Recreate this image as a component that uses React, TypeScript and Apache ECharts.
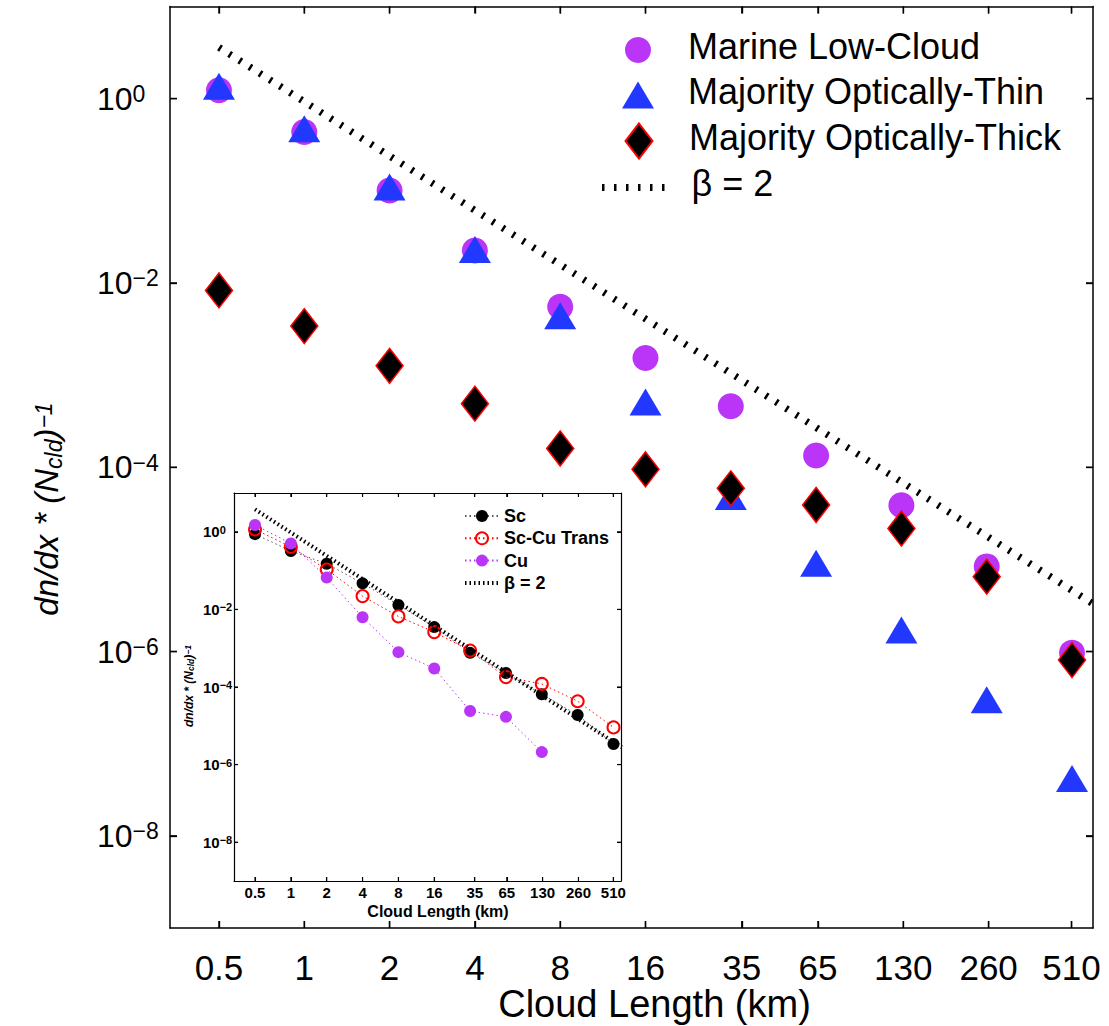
import React, { useEffect, useRef } from 'react';
import * as echarts from 'echarts';

// ---------- data ----------
const cloudLengths = [0.5, 1, 2, 4, 8, 16, 32, 64, 128, 256, 512];
const xTickValues = [0.5, 1, 2, 4, 8, 16, 35, 65, 130, 260, 510];
const yTickExponents = [-8, -6, -4, -2, 0];

const marineLowCloud = [1.23, 0.434, 0.101, 0.0225, 5.5e-3, 1.53e-3, 4.6e-4, 1.34e-4, 3.86e-5, 8.4e-6, 9.7e-7];
const opticallyThin = [1.36, 0.472, 0.11, 0.0231, 4.4e-3, 5.1e-4, 4.8e-5, 9.1e-6, 1.71e-6, 3.0e-7, 4.2e-8];
const opticallyThick = [8.3e-3, 3.4e-3, 1.26e-3, 4.9e-4, 1.6e-4, 9.5e-5, 5.9e-5, 3.9e-5, 2.16e-5, 6.5e-6, 8.1e-7];
const betaMainX = [0.5, 607];
const betaMainY = [3.6, 3.3e-6];

const insetSc = [0.87, 0.32, 0.15, 0.047, 0.013, 0.0035, 7.6e-4, 2.3e-4, 6.5e-5, 1.9e-5, 3.4e-6];
const insetTrans = [1.15, 0.41, 0.107, 0.022, 0.0066, 0.0026, 8.7e-4, 1.8e-4, 1.2e-4, 4.3e-5, 9.1e-6];
const insetCu = [1.5, 0.5, 0.066, 0.0063, 7.9e-4, 3.0e-4, 2.4e-5, 1.7e-5, 2.1e-6];
const betaInsetX = [0.5, 600];
const betaInsetY = [3.8, 2.8e-6];

// ---------- helpers ----------
const FONT = "'Liberation Sans', Arial, Helvetica, sans-serif";
const PURPLE = '#BA35F7';
const BLUE = '#2238FF';
const RED = '#FF0000';
const CLEAR = 'rgba(0,0,0,0)';

const toPts = (xs: number[], ys: number[]) => ys.map((y, i) => [Math.log2(xs[i]), Math.log10(y)]);
const xTickPos = xTickValues.map((v) => Math.log2(v));
const xFormatter = (v: number) => {
  const i = xTickPos.findIndex((p) => Math.abs(p - v) < 1e-6);
  return i >= 0 ? String(xTickValues[i]) : '';
};
const yFormatter = (v: number) => {
  const e = Math.round(v);
  const s = e < 0 ? '\u2212' + -e : String(e);
  return `{b|10}{s|${s}}`;
};

const boxAxis = (grid: number, pos: string, min: number, max: number, lw: number, ticks: number[], len: number) => ({
  gridIndex: grid,
  type: 'value',
  position: pos,
  min,
  max,
  z: grid === 1 ? 6 : 0,
  axisLine: { show: true, onZero: false, lineStyle: { color: '#000', width: lw } },
  axisTick: { show: true, inside: true, length: len, customValues: ticks, lineStyle: { color: '#000', width: lw * 0.9 } },
  axisLabel: { show: false },
  splitLine: { show: false },
});

// tick marks on all four sides of a grid, placed through the axes' own scales
const tickSeries = (xIdx: number, yIdx: number, xMin: number, yMin: number, len: number, lw: number, z: number) => ({
  type: 'custom',
  xAxisIndex: xIdx,
  yAxisIndex: yIdx,
  z,
  silent: true,
  clip: false,
  data: [...xTickPos.map((v) => [0, v]), ...yTickExponents.map((v) => [1, v])],
  renderItem: (params: any, api: any) => {
    const kind = api.value(0);
    const v = api.value(1);
    const cs = params.coordSys;
    const st = { stroke: '#000', lineWidth: lw };
    if (kind === 0) {
      const x = api.coord([v, yMin])[0];
      const b = cs.y + cs.height;
      return {
        type: 'group',
        children: [
          { type: 'line', shape: { x1: x, y1: b, x2: x, y2: b - len }, style: st },
          { type: 'line', shape: { x1: x, y1: cs.y, x2: x, y2: cs.y + len }, style: st },
        ],
      };
    }
    const y = api.coord([xMin, v])[1];
    const r = cs.x + cs.width;
    return {
      type: 'group',
      children: [
        { type: 'line', shape: { x1: cs.x, y1: y, x2: cs.x + len, y2: y }, style: st },
        { type: 'line', shape: { x1: r, y1: y, x2: r - len, y2: y }, style: st },
      ],
    };
  },
});

export default function App() {
  const ref = useRef<HTMLDivElement>(null);

  useEffect(() => {
    if (!ref.current) return;
    const chart = echarts.init(ref.current, null, { renderer: 'svg' });

    const mainXMin = -1.574, mainXMax = 9.246;
    const insXMin = -1.586, insXMax = 9.209;

    const mainLegendText = (gap: number) => ({
      rich: {
        g: { width: gap },
        t: { fontSize: 36, lineHeight: 36, color: '#000', fontFamily: FONT, padding: [0, 0, 8, 0] },
      },
    });

    const option: any = {
      animation: false,
      backgroundColor: '#fff',
      grid: [
        { left: 170, top: 6.5, width: 923, height: 921.5, show: false, outerBoundsMode: 'none', containLabel: false },
        {
          left: 234, top: 493, width: 387, height: 388, show: true, backgroundColor: '#fff', borderWidth: 0, z: 5,
          outerBoundsMode: 'none', containLabel: false,
        },
      ],
      xAxis: [
        {
          ...boxAxis(0, 'bottom', mainXMin, mainXMax, 1.5, xTickPos, 7),
          axisLabel: {
            show: true, customValues: xTickPos, formatter: xFormatter,
            fontSize: 35, lineHeight: 32, color: '#000', fontFamily: FONT, margin: 23,
          },
          name: 'Cloud Length (km)',
          nameLocation: 'middle',
          nameGap: 59,
          nameMoveOverlap: false,
          nameTextStyle: { fontSize: 38, lineHeight: 34, color: '#000', fontFamily: FONT, padding: [0, 0, 0, 46] },
        },
        boxAxis(0, 'top', mainXMin, mainXMax, 1.5, xTickPos, 7),
        {
          ...boxAxis(1, 'bottom', insXMin, insXMax, 1.2, xTickPos, 4),
          axisLabel: {
            show: true, customValues: xTickPos, formatter: xFormatter,
            fontSize: 15, fontWeight: 'bold', color: '#000', fontFamily: FONT, margin: 4,
          },
          name: 'Cloud Length (km)',
          nameLocation: 'middle',
          nameGap: 22,
          nameTextStyle: { fontSize: 16, fontWeight: 'bold', color: '#000', fontFamily: FONT, padding: [0, 0, 0, 21] },
        },
        boxAxis(1, 'top', insXMin, insXMax, 1.2, xTickPos, 4),
      ],
      yAxis: [
        {
          ...boxAxis(0, 'left', -9, 1, 1.5, yTickExponents, 7),
          axisLabel: {
            show: true, customValues: yTickExponents, formatter: yFormatter,
            align: 'left', margin: 73, color: '#000',
            rich: {
              b: { fontSize: 32, lineHeight: 32, padding: [11, 0, 11, 0], fontFamily: FONT, color: '#000' },
              s: { fontSize: 23, lineHeight: 22, verticalAlign: 'top', fontFamily: FONT, color: '#000' },
            },
          },
        },
        boxAxis(0, 'right', -9, 1, 1.5, yTickExponents, 7),
        {
          ...boxAxis(1, 'left', -9, 1, 1.2, yTickExponents, 4),
          axisLabel: {
            show: true, customValues: yTickExponents, formatter: yFormatter,
            align: 'left', margin: 31, color: '#000',
            rich: {
              b: { fontSize: 15, lineHeight: 15, padding: [5, 0, 5, 0], fontWeight: 'bold', fontFamily: FONT, color: '#000' },
              s: { fontSize: 11, lineHeight: 11, verticalAlign: 'top', fontWeight: 'bold', fontFamily: FONT, color: '#000' },
            },
          },
        },
        boxAxis(1, 'right', -9, 1, 1.2, yTickExponents, 4),
      ],
      legend: [
        {
          left: 625, top: 28, padding: 0, itemWidth: 26, itemHeight: 26, selectedMode: false,
          data: [{ name: 'Marine Low-Cloud', icon: 'circle' }],
          formatter: (n: string) => `{g| }{t|${n}}`,
          textStyle: mainLegendText(32),
        },
        {
          left: 622, top: 73, padding: 0, itemWidth: 32, itemHeight: 27, selectedMode: false,
          data: [{ name: 'Majority Optically-Thin', icon: 'triangle' }],
          formatter: (n: string) => `{g| }{t|${n}}`,
          textStyle: mainLegendText(29),
        },
        {
          left: 624.5, top: 119, padding: 0, itemWidth: 27, itemHeight: 35, selectedMode: false,
          data: [{ name: 'Majority Optically-Thick', icon: 'diamond' }],
          formatter: (n: string) => `{g| }{t|${n}}`,
          textStyle: mainLegendText(31.5),
        },
        {
          left: 598.5, top: 165.5, padding: 0, itemWidth: 72, itemHeight: 14, selectedMode: false,
          data: [{
            name: '\u03B2 = 2',
            itemStyle: { color: CLEAR, borderColor: CLEAR, borderWidth: 0 },
            lineStyle: { color: '#000', width: 7, type: [2.5, 9.5], cap: 'butt' },
          }],
          lineStyle: { color: '#000', width: 7, type: [2.5, 9.5], cap: 'butt' },
          formatter: (n: string) => `{g| }{t|${n}}`,
          textStyle: mainLegendText(12.5),
        },
        {
          left: 463, top: 507, padding: 0, orient: 'vertical', itemWidth: 34, itemHeight: 15, itemGap: 4.3,
          selectedMode: false, z: 8,
          data: [
            'Sc',
            'Sc-Cu Trans',
            'Cu',
            {
              name: '\u03B2 = 2 ',
              itemStyle: { color: CLEAR, borderColor: CLEAR, borderWidth: 0 },
              lineStyle: { color: '#000', width: 4, type: [1.5, 3], cap: 'butt' },
            },
          ],
          textStyle: { fontSize: 18, fontWeight: 'bold', color: '#000', fontFamily: FONT },
        },
      ],
      graphic: [
        {
          type: 'text', x: 49, y: 509, rotation: Math.PI / 2,
          style: {
            text: '{i|dn/dx * (N}{sub|cld}{i|)}{sup|\u22121}',
            align: 'center', verticalAlign: 'middle',
            rich: {
              i: { fontSize: 33, lineHeight: 33, padding: [10, 0, 15, 0], fontStyle: 'italic', fontFamily: FONT, fill: '#000' },
              sub: { fontSize: 23, lineHeight: 23, verticalAlign: 'bottom', fontStyle: 'italic', fontFamily: FONT, fill: '#000' },
              sup: { fontSize: 23, lineHeight: 24, verticalAlign: 'top', fontStyle: 'italic', fontFamily: FONT, fill: '#000' },
            },
          },
        },
        {
          type: 'text', x: 189, y: 686, rotation: Math.PI / 2, z: 10,
          style: {
            text: '{i|dn/dx * (N}{sub|cld}{i|)}{sup|\u22121}',
            align: 'center', verticalAlign: 'middle',
            rich: {
              i: { fontSize: 12, lineHeight: 12, padding: [4, 0, 5, 0], fontStyle: 'italic', fontWeight: 'bold', fontFamily: FONT, fill: '#000' },
              sub: { fontSize: 8.5, lineHeight: 8.5, verticalAlign: 'bottom', fontStyle: 'italic', fontWeight: 'bold', fontFamily: FONT, fill: '#000' },
              sup: { fontSize: 8.5, lineHeight: 9, verticalAlign: 'top', fontStyle: 'italic', fontWeight: 'bold', fontFamily: FONT, fill: '#000' },
            },
          },
        },
      ],
      series: [
        {
          name: 'Marine Low-Cloud', type: 'scatter', xAxisIndex: 0, yAxisIndex: 0,
          symbol: 'circle', symbolSize: 26, z: 2,
          itemStyle: { color: PURPLE, opacity: 1 },
          data: toPts(cloudLengths, marineLowCloud),
        },
        {
          name: 'Majority Optically-Thin', type: 'scatter', xAxisIndex: 0, yAxisIndex: 0,
          symbol: 'triangle', symbolSize: [32, 27], z: 3,
          itemStyle: { color: BLUE, opacity: 1 },
          data: toPts(cloudLengths, opticallyThin),
        },
        {
          name: 'Majority Optically-Thick', type: 'scatter', xAxisIndex: 0, yAxisIndex: 0,
          symbol: 'diamond', symbolSize: [27, 35], z: 4,
          itemStyle: { color: '#000', borderColor: RED, borderWidth: 1.5, opacity: 1 },
          data: toPts(cloudLengths, opticallyThick),
        },
        {
          name: '\u03B2 = 2', type: 'line', xAxisIndex: 0, yAxisIndex: 0,
          symbol: 'none', z: 4,
          lineStyle: { color: '#000', width: 7, type: [2.5, 9.5], cap: 'butt' },
          itemStyle: { color: '#000' },
          data: toPts(betaMainX, betaMainY),
        },
        tickSeries(0, 0, mainXMin, -9, 7, 1.4, 4),
        {
          name: 'Sc', type: 'line', xAxisIndex: 2, yAxisIndex: 2,
          symbol: 'circle', symbolSize: 12, z: 7,
          itemStyle: { color: '#000' },
          lineStyle: { color: '#555', width: 1, type: [1.5, 3] },
          data: toPts(cloudLengths, insetSc),
        },
        {
          name: 'Sc-Cu Trans', type: 'line', xAxisIndex: 2, yAxisIndex: 2,
          symbol: 'circle', symbolSize: 12, z: 8,
          itemStyle: { color: 'rgba(255,255,255,0)', borderColor: RED, borderWidth: 2 },
          lineStyle: { color: RED, width: 1, type: [1.5, 3] },
          data: toPts(cloudLengths, insetTrans),
        },
        {
          name: 'Cu', type: 'line', xAxisIndex: 2, yAxisIndex: 2,
          symbol: 'circle', symbolSize: 12, z: 9,
          itemStyle: { color: PURPLE },
          lineStyle: { color: PURPLE, width: 1, type: [1.5, 3] },
          data: toPts(cloudLengths.slice(0, insetCu.length), insetCu),
        },
        {
          name: '\u03B2 = 2 ', type: 'line', xAxisIndex: 2, yAxisIndex: 2,
          symbol: 'none', z: 10,
          itemStyle: { color: '#000' },
          lineStyle: { color: '#000', width: 4, type: [1.5, 3], cap: 'butt' },
          data: toPts(betaInsetX, betaInsetY),
        },
        tickSeries(2, 2, insXMin, -9, 4, 1.1, 11),
      ],
    };

    chart.setOption(option);
    return () => chart.dispose();
  }, []);

  return (
    <div
      ref={ref}
      style={{ position: 'absolute', left: 0, top: 0, width: 1109, height: 1026, background: '#fff' }}
    />
  );
}
